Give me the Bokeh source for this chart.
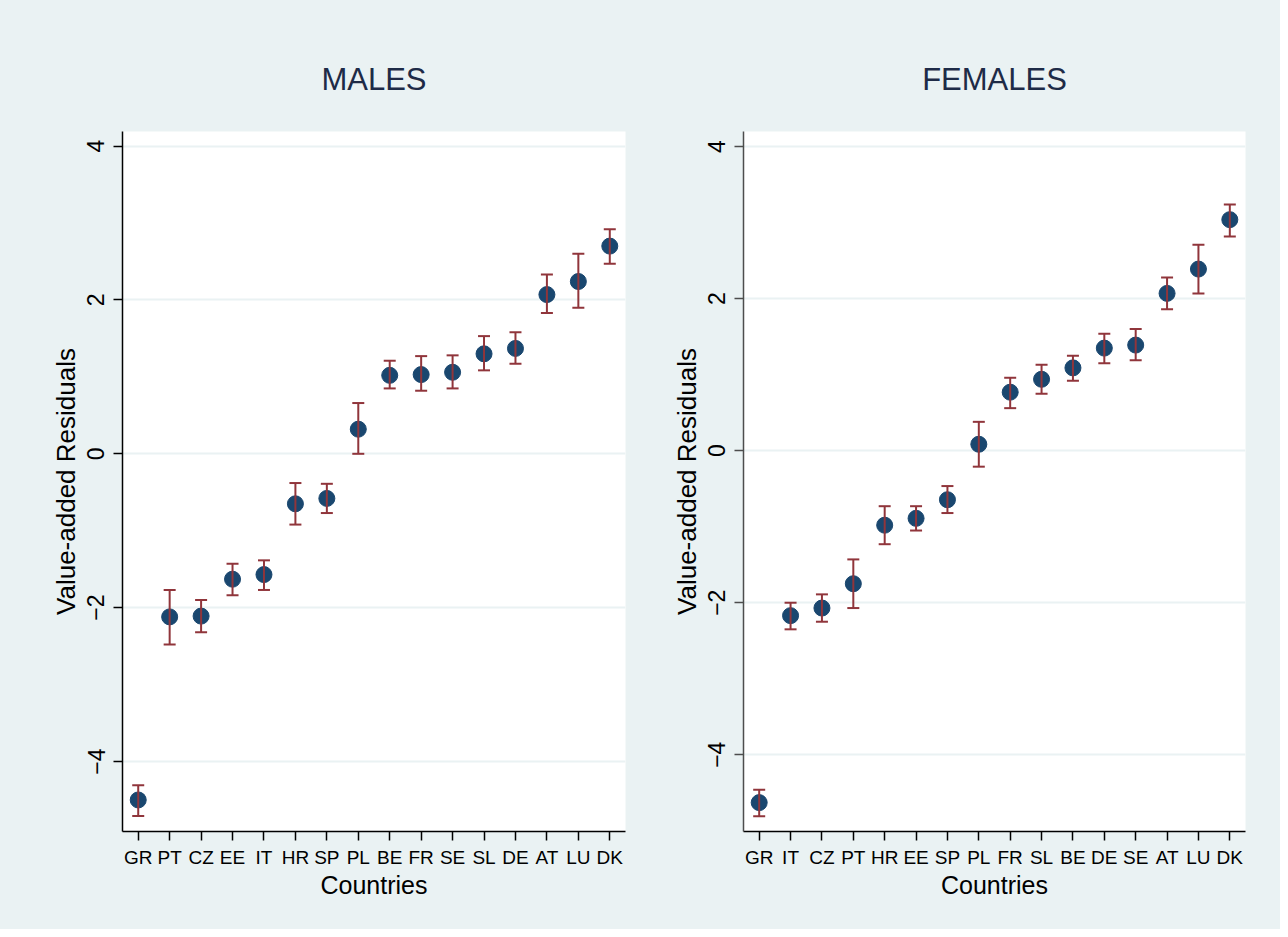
from bokeh.plotting import figure
from bokeh.layouts import row
from bokeh.models import ColumnDataSource, FixedTicker, Range1d
from bokeh.embed import file_html
from bokeh.resources import INLINE

# ---------------- data ----------------
males_countries = ["GR", "PT", "CZ", "EE", "IT", "HR", "SP", "PL",
                   "BE", "FR", "SE", "SL", "DE", "AT", "LU", "DK"]
males_value = [-4.50, -2.12, -2.11, -1.63, -1.57, -0.65, -0.58, 0.32,
               1.02, 1.03, 1.06, 1.30, 1.37, 2.07, 2.24, 2.70]
males_upper = [-4.31, -1.77, -1.90, -1.43, -1.385, -0.38, -0.39, 0.66,
               1.21, 1.27, 1.28, 1.53, 1.58, 2.33, 2.60, 2.92]
males_lower = [-4.71, -2.48, -2.32, -1.84, -1.77, -0.92, -0.77, 0.00,
               0.85, 0.82, 0.85, 1.085, 1.17, 1.83, 1.90, 2.47]

females_countries = ["GR", "IT", "CZ", "PT", "HR", "EE", "SP", "PL",
                     "FR", "SL", "BE", "DE", "SE", "AT", "LU", "DK"]
females_value = [-4.63, -2.17, -2.07, -1.75, -0.98, -0.89, -0.645, 0.085,
                 0.77, 0.94, 1.09, 1.35, 1.39, 2.07, 2.39, 3.04]
females_upper = [-4.46, -2.00, -1.89, -1.43, -0.73, -0.73, -0.465, 0.38,
                 0.96, 1.13, 1.25, 1.54, 1.60, 2.28, 2.71, 3.24]
females_lower = [-4.81, -2.35, -2.25, -2.07, -1.23, -1.05, -0.82, -0.21,
                 0.56, 0.75, 0.92, 1.15, 1.19, 1.86, 2.07, 2.82]

y_ticks = [-4, -2, 0, 2, 4]

# ---------------- style ----------------
BG = "#EAF2F3"
NAVY = "#1A476F"
MAROON = "#90353B"
FONT = "Liberation Sans"


def make_panel(title, countries, vals, lo, hi, y_lo, y_hi, width,
               border_left, border_right, yaxis_color, title_offset):
    src = ColumnDataSource(dict(c=countries, v=vals, lo=lo, hi=hi))
    p = figure(width=width, height=929, x_range=countries,
               y_range=Range1d(y_lo, y_hi),
               output_backend="svg", toolbar_location=None,
               min_border_left=border_left, min_border_right=border_right,
               min_border_top=131, min_border_bottom=98)
    p.background_fill_color = "white"
    p.border_fill_color = BG
    p.outline_line_color = None

    p.title.text = title
    p.title.align = "center"
    p.title.offset = title_offset
    p.title.text_font = FONT
    p.title.text_font_size = "31px"
    p.title.text_font_style = "normal"
    p.title.text_color = "#1E2B47"
    p.title.standoff = 70

    # points then error bars on top
    p.scatter("c", "v", source=src, size=16, fill_color=NAVY,
              line_color=NAVY)
    p.segment(x0="c", y0="lo", x1="c", y1="hi", source=src,
              line_color=MAROON, line_width=2)
    p.scatter("c", "hi", source=src, marker="dash", size=12,
              line_color=MAROON, line_width=2)
    p.scatter("c", "lo", source=src, marker="dash", size=12,
              line_color=MAROON, line_width=2)

    # grid
    p.xgrid.grid_line_color = None
    p.ygrid.grid_line_color = BG
    p.ygrid.grid_line_width = 2
    p.yaxis.ticker = FixedTicker(ticks=y_ticks)

    # y axis
    ya = p.yaxis[0]
    ya.axis_label = "Value-added Residuals"
    ya.axis_label_text_font = FONT
    ya.axis_label_text_font_size = "26px"
    ya.axis_label_text_font_style = "normal"
    ya.axis_label_text_color = "black"
    ya.axis_label_standoff = 4
    ya.major_label_orientation = "vertical"
    ya.major_label_text_font = FONT
    ya.major_label_text_font_size = "23px"
    ya.major_label_text_color = "black"
    ya.major_label_standoff = 9
    ya.major_tick_in = 0
    ya.major_tick_out = 9
    ya.minor_tick_in = 0
    ya.minor_tick_out = 0
    ya.axis_line_color = yaxis_color
    ya.axis_line_width = 1.5
    ya.major_tick_line_color = yaxis_color
    ya.major_tick_line_width = 1.5

    # x axis
    xa = p.xaxis[0]
    xa.axis_label = "Countries"
    xa.axis_label_text_font = FONT
    xa.axis_label_text_font_size = "25px"
    xa.axis_label_text_font_style = "normal"
    xa.axis_label_text_color = "black"
    xa.axis_label_standoff = 0
    xa.major_label_text_font = FONT
    xa.major_label_text_font_size = "19px"
    xa.major_label_text_color = "black"
    xa.major_label_standoff = 6
    xa.major_tick_in = 0
    xa.major_tick_out = 9
    xa.axis_line_color = "black"
    xa.axis_line_width = 1.5
    xa.major_tick_line_color = "black"
    xa.major_tick_line_width = 1.5
    return p


p1 = make_panel("MALES", males_countries, males_value, males_lower,
                males_upper, -4.91, 4.19, 644, 122, 19, "black", -7)
p2 = make_panel("FEMALES", females_countries, females_value, females_lower,
                females_upper, -5.01, 4.20, 636, 99, 35, "#4d4d4d", 14)

layout = row(p1, p2, styles={"background-color": BG})
open("out.html", "w").write(file_html(layout, INLINE))
